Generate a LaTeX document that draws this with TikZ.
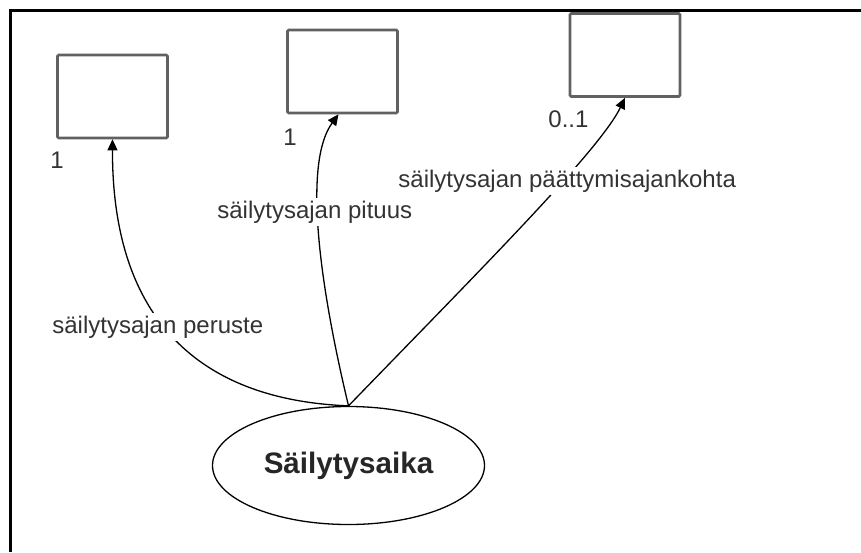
\documentclass[tikz,border=0pt]{standalone}
\usepackage{fontspec}
\setmainfont{Liberation Sans}
\usetikzlibrary{positioning,shapes.geometric,arrows.meta}

\begin{document}
\begin{tikzpicture}[x=0.5pt,y=-0.5pt,
    box/.style={draw=black!62,line width=1.3pt,rounded corners=0.6pt,minimum width=55pt,minimum height=41.5pt,inner sep=0pt},
    lbl/.style={text=black!80,font=\fontsize{12}{14}\selectfont,inner sep=1.5pt},
    link/.style={-{Triangle[length=5.5pt,width=5pt]},line width=0.65pt}]
  \useasboundingbox (0,0) rectangle (861,552);
  \draw[line width=1.5pt] (10,552) -- (10,10) -- (861,10);
  \node[box] (a) at (112.5,96.5) {};
  \node[box] (b) at (342.5,71.5) {};
  \node[box] (c) at (625,55) {};
  \node[ellipse,draw,line width=0.65pt,minimum width=136pt,minimum height=59pt,inner sep=0pt,
        font=\bfseries\fontsize{14.8}{17}\selectfont,text=black!85] (s) at (348.5,465.5) {Säilytysaika};
  \node[lbl,anchor=base west] (m1) at (47,168) {1};
  \node[lbl,anchor=base west] (m2) at (280,145) {1};
  \node[lbl,anchor=base west] (m3) at (545,127) {0..1};
  % links first, labels cut them
  \draw[link] (s.north) .. controls (200,400) and (112,320) .. (a.south);
  \draw[link] (s.north) .. controls (316,270) and (305,160) .. ([xshift=-2pt]b.south);
  \draw[link] (s.north) .. controls (480,270) and (600,150) .. (c.south);
  \node[lbl,fill=white,anchor=base west] (p) at (49,333) {säilytysajan peruste};
  \node[lbl,fill=white,anchor=base west] (q) at (214,218) {säilytysajan pituus};
  \node[lbl,fill=white,anchor=base west] (r) at (395,187) {säilytysajan päättymisajankohta};
\end{tikzpicture}
\end{document}
